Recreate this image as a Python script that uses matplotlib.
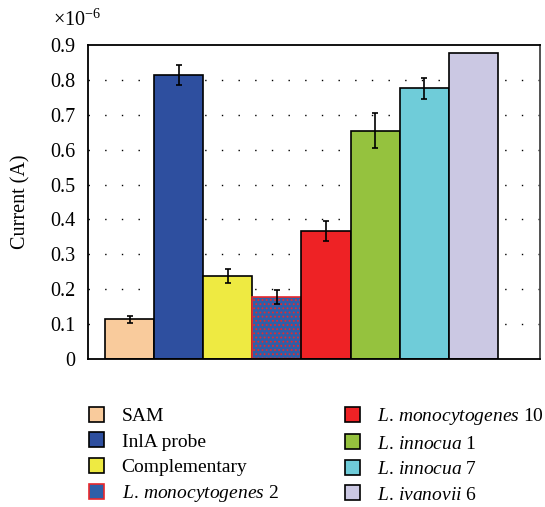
import matplotlib
matplotlib.use('Agg')
import matplotlib.pyplot as plt
from matplotlib.patches import Patch

plt.rcParams['font.family'] = ['Liberation Serif', 'DejaVu Serif']
plt.rcParams['mathtext.fontset'] = 'custom'
plt.rcParams['mathtext.rm'] = 'Liberation Serif'
plt.rcParams['mathtext.it'] = 'Liberation Serif:italic'
plt.rcParams['hatch.linewidth'] = 0.8

labels = ['SAM', 'InlA probe', 'Complementary',
          r'$\it{L.\,monocytogenes}$ 2',
          r'$\it{L.\,monocytogenes}$ 10',
          r'$\it{L.\,innocua}$ 1',
          r'$\it{L.\,innocua}$ 7',
          r'$\it{L.\,ivanovii}$ 6']
# current in units of 1e-6 A
current = [0.114, 0.814, 0.239, 0.179, 0.367, 0.654, 0.776, 0.877]
errors = [0.010, 0.030, 0.020, 0.020, 0.030, 0.050, 0.030, 0.0]
yticks = [0, 0.1, 0.2, 0.3, 0.4, 0.5, 0.6, 0.7, 0.8, 0.9]
ytick_labels = ['0', '0.1', '0.2', '0.3', '0.4', '0.5', '0.6', '0.7', '0.8', '0.9']
colors = ['#f9cb9c', '#2e4f9f', '#eeea42', '#2f5fa8', '#ee2225', '#95c23e', '#6fccd9', '#cbc8e3']
edges = ['black', 'black', 'black', '#e8282c', 'black', 'black', 'black', 'black']
hatches = [None, None, None, '....', None, None, None, None]

FS = 14.5

fig = plt.figure(figsize=(5.45, 5.07), dpi=100)
ax = fig.add_axes([0.1615, 0.2919, 0.8293, 0.6193])

positions = list(range(1, len(current) + 1))
for i, pos in enumerate(positions):
    ax.bar(pos, current[i], width=1.0, color=colors[i], edgecolor=edges[i],
           linewidth=1.2, hatch=hatches[i], zorder=2)
    if errors[i] > 0:
        ax.errorbar(pos, current[i], yerr=errors[i], color='black', lw=1.2,
                    capsize=2, capthick=1.2, zorder=3)

ax.set_xlim(0.153, 9.357)
ax.set_ylim(0, 0.9)
ax.set_yticks(yticks)
ax.set_yticklabels(ytick_labels)
ax.set_xticks([])
ax.tick_params(axis='y', length=0, labelsize=FS, pad=9)
ax.set_ylabel('Current (A)', fontsize=FS)
ax.yaxis.set_label_coords(-0.128, 0.5)
fig.text(0.097, 0.949, r'$\times10^{-6}$', fontsize=FS, ha='left', va='baseline')

for y in yticks[1:-1]:
    ax.axhline(y, color='black', lw=1, linestyle=(0, (1, 11)), zorder=1)

for s in ax.spines.values():
    s.set_linewidth(1.3)
ax.spines['right'].set_color('#444444')

handles = [Patch(facecolor=colors[i], edgecolor=edges[i], linewidth=1.2)
           for i in range(len(labels))]
fig.legend(handles, labels, ncol=2, loc='upper left',
           bbox_to_anchor=(0.163, 0.199), frameon=False, fontsize=14,
           handlelength=0.78, handleheight=0.78, handletextpad=0.9,
           labelspacing=0.38, columnspacing=3.4, borderaxespad=0, borderpad=0)

plt.savefig('out.png', dpi=100)
